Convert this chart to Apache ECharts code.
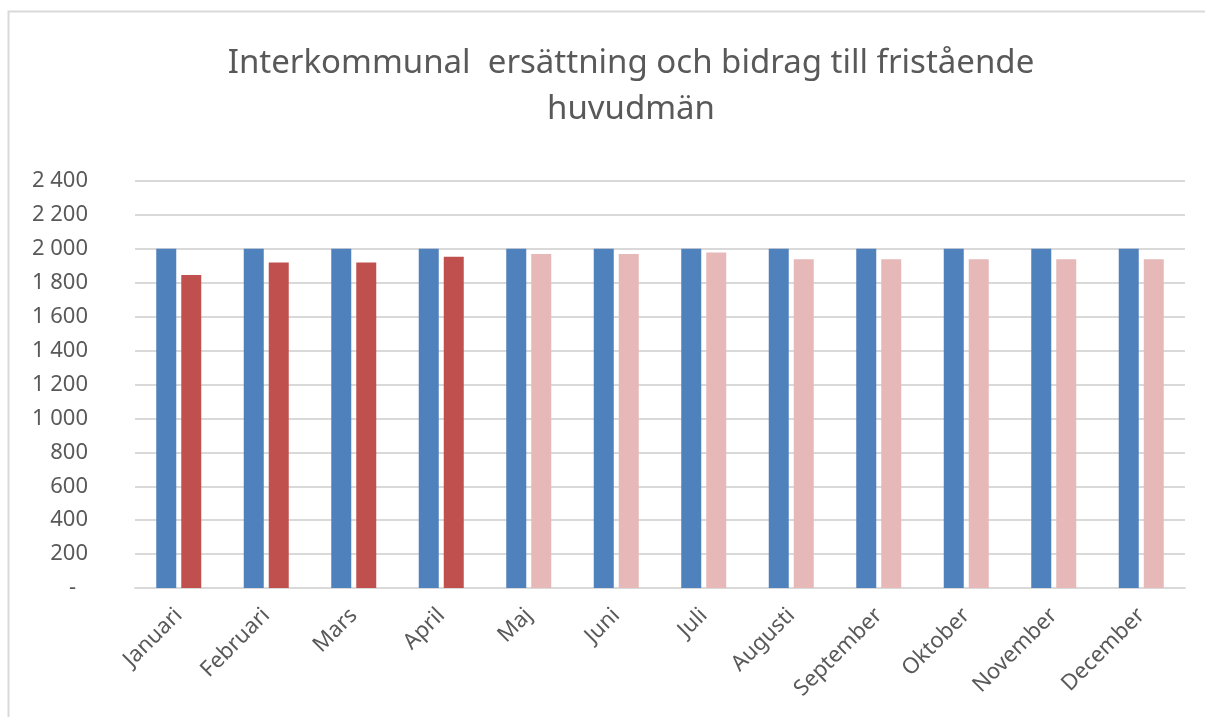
<!DOCTYPE html>
<html>
<head>
<meta charset="utf-8">
<script src="https://cdn.jsdelivr.net/npm/echarts@6/dist/echarts.min.js"></script>
<style>
  html, body { margin: 0; padding: 0; background: #fff; }
  #chart { width: 1205px; height: 717px; }
</style>
</head>
<body>
<div id="chart"></div>
<script>
// månader och värden (tkr)
const months = ['Januari', 'Februari', 'Mars', 'April', 'Maj', 'Juni', 'Juli',
  'Augusti', 'September', 'Oktober', 'November', 'December'];
const budget = [2000, 2000, 2000, 2000, 2000, 2000, 2000, 2000, 2000, 2000, 2000, 2000];
const outcome = [1845, 1920, 1920, 1953, 1969, 1969, 1978, 1938, 1938, 1938, 1938, 1938];
const actualMonths = 4; // utfall t.o.m. april, resten prognos

const textColor = '#595959';
const font = 'Noto Sans';

const fmt = v => v === 0 ? '{d|-}' : String(v).replace(/\B(?=(\d{3})+(?!\d))/g, ' ');

const chart = echarts.init(document.getElementById('chart'));
const option = {
  animation: false,
  backgroundColor: '#fff',
  textStyle: { fontFamily: font },
  title: {
    text: 'Interkommunal  ersättning och bidrag till fristående\nhuvudmän',
    left: 626,
    textAlign: 'center',
    top: 36,
    textStyle: {
      fontFamily: font,
      fontSize: 33,
      fontWeight: 'normal',
      color: textColor,
      lineHeight: 46
    }
  },
  graphic: [{
    type: 'rect',
    shape: { x: 8.5, y: 11.5, width: 1300, height: 800 },
    style: { fill: 'none', stroke: '#d9d9d9', lineWidth: 2 },
    silent: true
  }],
  grid: { left: 135, right: 20, top: 181, bottom: 129, containLabel: false },
  xAxis: {
    type: 'category',
    data: months,
    axisTick: { show: false },
    axisLine: { lineStyle: { color: '#d9d9d9', width: 2 } },
    axisLabel: {
      interval: 0,
      rotate: 45,
      margin: 24,
      fontSize: 22,
      color: textColor,
      fontFamily: font
    }
  },
  yAxis: {
    type: 'value',
    min: 0,
    max: 2400,
    interval: 200,
    axisLine: { show: false },
    axisTick: { show: false },
    splitLine: { lineStyle: { color: '#d9d9d9', width: 2 } },
    axisLabel: {
      margin: 47,
      fontSize: 22,
      color: textColor,
      fontFamily: font,
      formatter: fmt,
      rich: {
        d: { fontSize: 22, color: textColor, fontFamily: font, padding: [0, 12, 0, 0] }
      }
    }
  },
  series: [
    {
      name: 'Budget',
      type: 'bar',
      data: budget,
      barWidth: 20,
      barGap: '25%',
      itemStyle: { color: '#4F81BD' }
    },
    {
      name: 'Utfall/prognos',
      type: 'bar',
      data: outcome,
      barWidth: 20,
      itemStyle: {
        color: p => p.dataIndex < actualMonths ? '#C0504D' : '#E6B9B8'
      }
    }
  ]
};
chart.setOption(option);
</script>
</body>
</html>
